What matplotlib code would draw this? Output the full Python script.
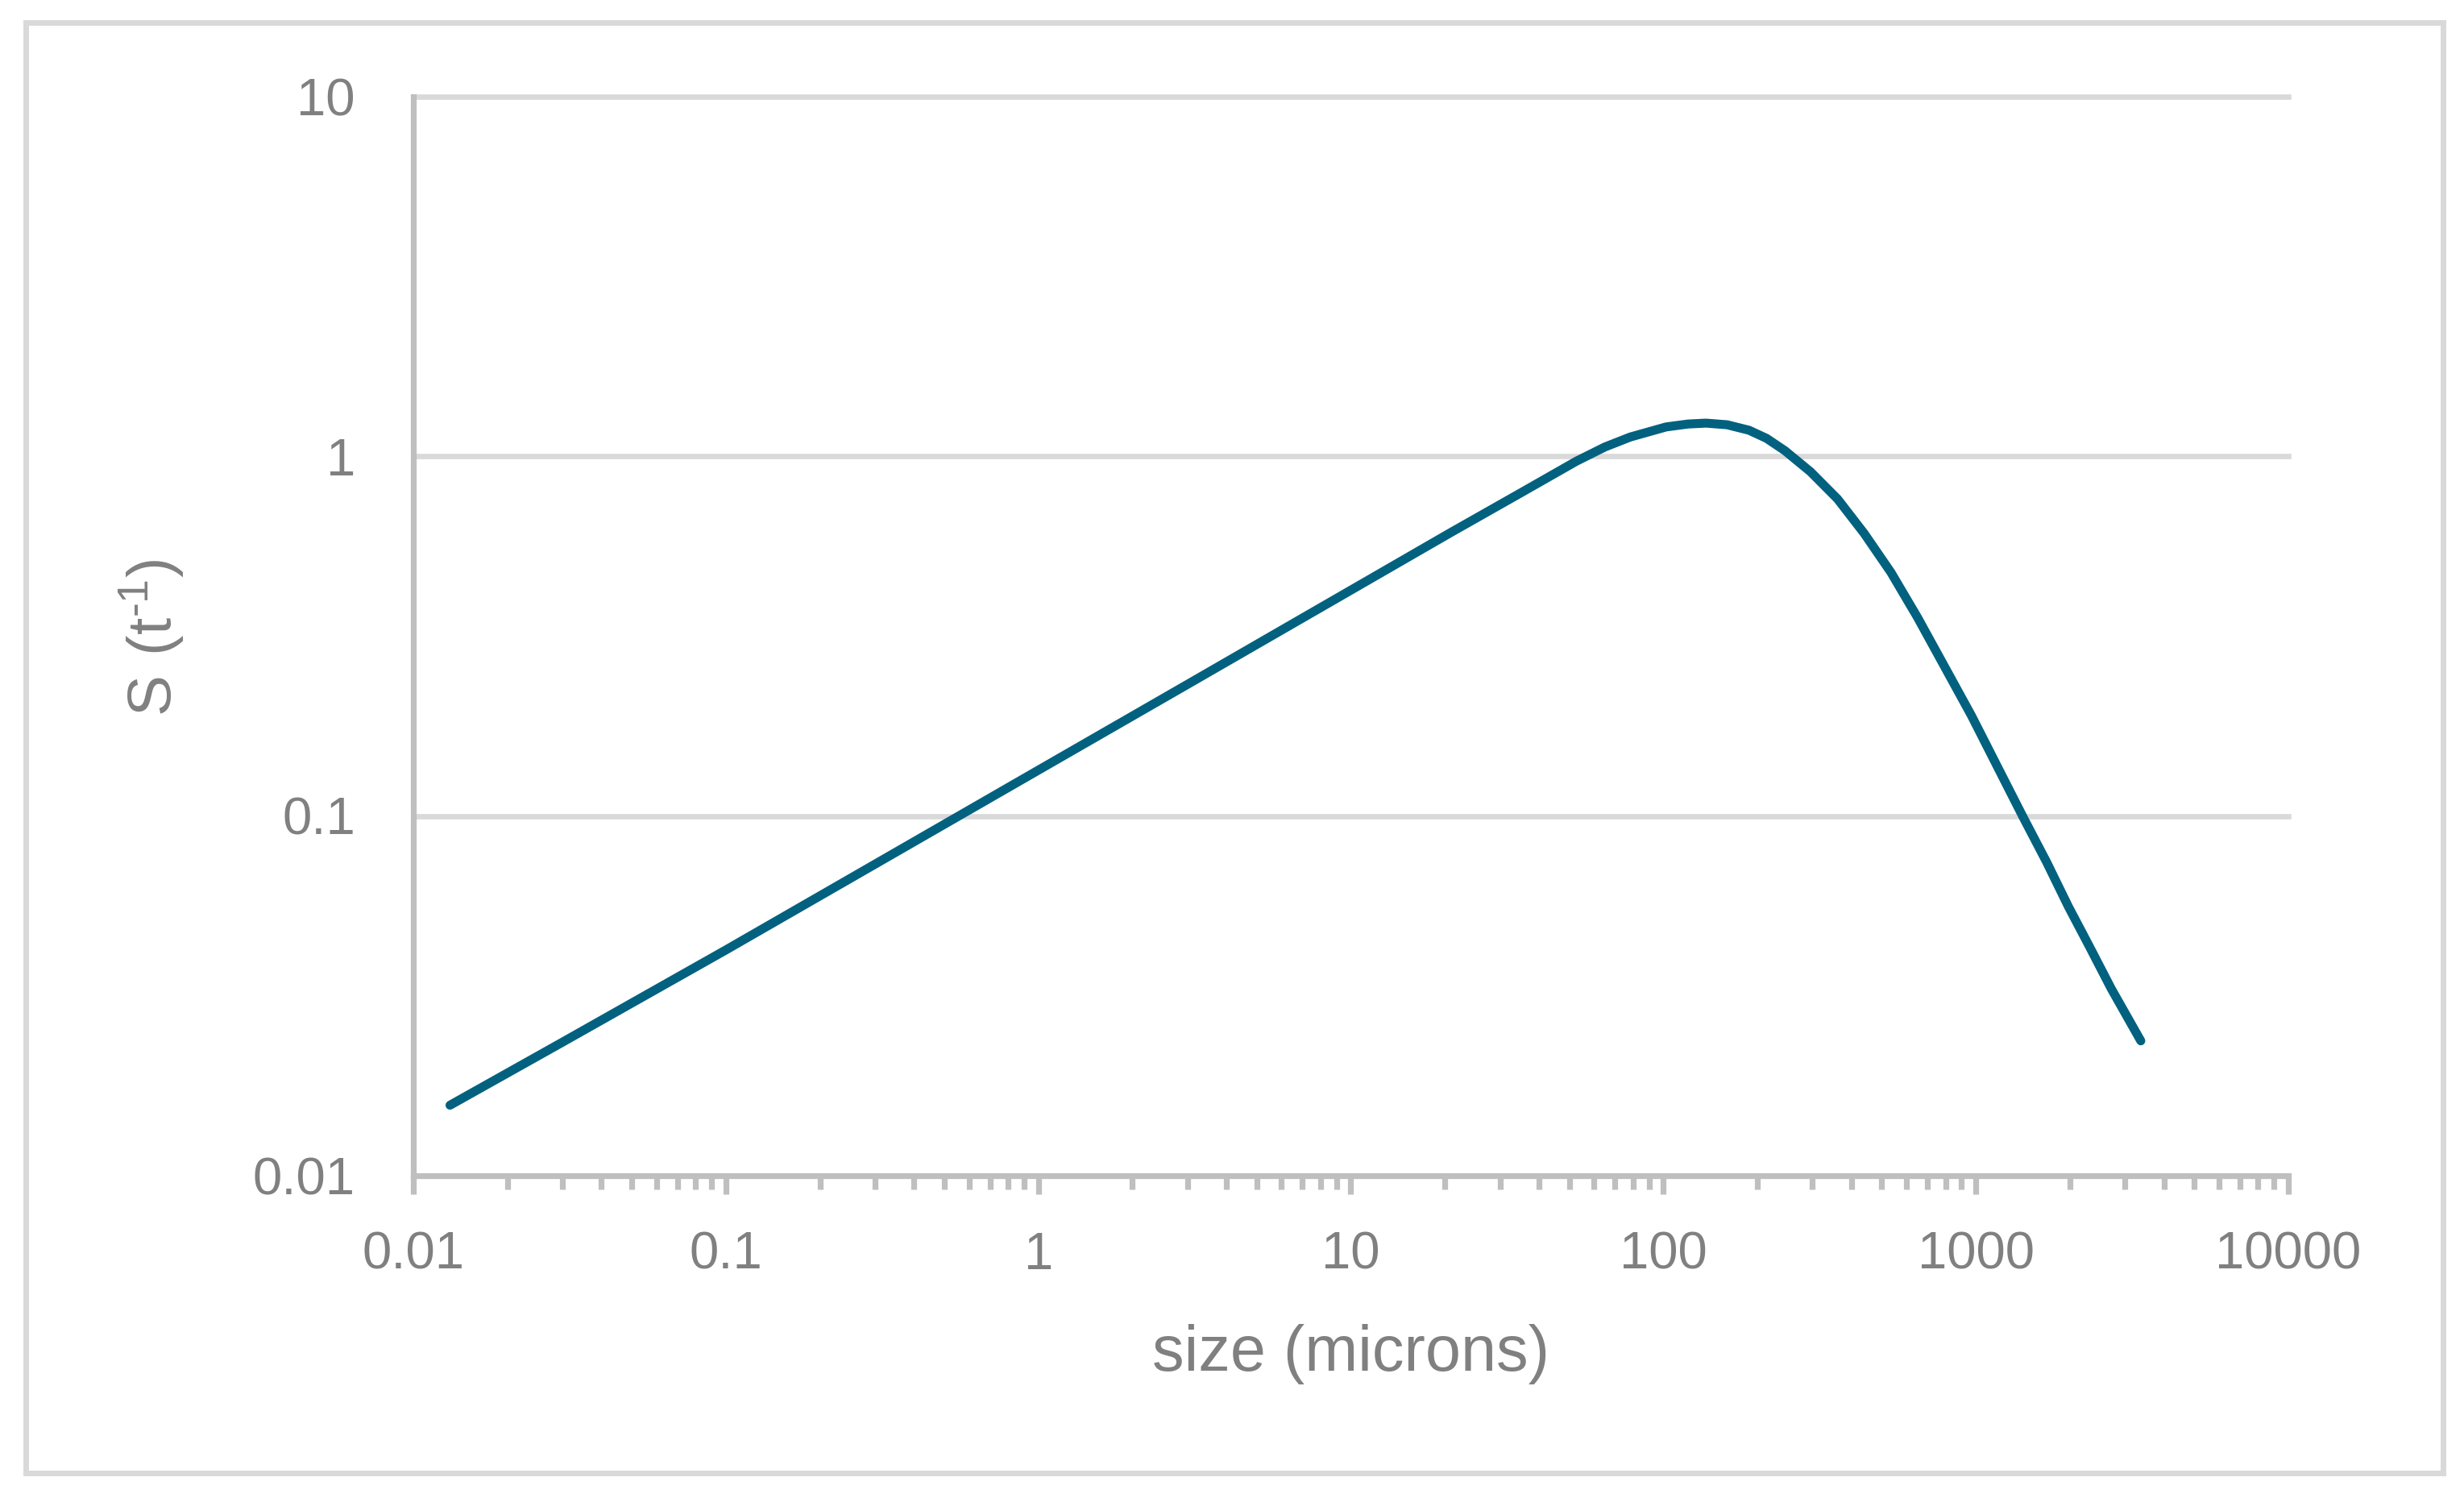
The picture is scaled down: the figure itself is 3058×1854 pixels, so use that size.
import matplotlib
matplotlib.use('Agg')
import matplotlib.pyplot as plt
from matplotlib.patches import Rectangle
from matplotlib.ticker import FixedLocator, NullFormatter

# Daten
size_um = [0.0131, 0.03, 0.1, 0.3, 1, 3, 10, 20.8, 35.4, 52.7, 65, 78.4, 102,
           120, 137, 160, 188, 214, 245, 296, 361, 439, 535, 652, 794, 968,
           1180, 1410, 1686, 1977, 2314, 2712, 3372]
s_rate = [0.0157, 0.0235, 0.0424, 0.0734, 0.134, 0.232, 0.424, 0.612, 0.795,
          0.968, 1.06, 1.13, 1.205, 1.228, 1.235, 1.222, 1.18, 1.12, 1.035,
          0.904, 0.76, 0.61, 0.475, 0.355, 0.260, 0.19, 0.1355, 0.100, 0.0743,
          0.0560, 0.0432, 0.0331, 0.0237]

x_ticks = [0.01, 0.1, 1, 10, 100, 1000, 10000]
x_tick_labels = ['0.01', '0.1', '1', '10', '100', '1000', '10000']
y_ticks = [0.01, 0.1, 1, 10]
y_tick_labels = ['0.01', '0.1', '1', '10']

x_label = 'size (microns)'
y_label = r'$\mathregular{S\ (t^{\text{-}1})}$'

W, H, DPI = 3058, 1854, 100
line_color = '#02617f'
grid_color = '#d9d9d9'
axis_color = '#bfbfbf'
text_color = '#808080'

plt.rcParams['font.family'] = ['Liberation Sans', 'DejaVu Sans']
plt.rcParams['mathtext.fontset'] = 'custom'
plt.rcParams['mathtext.rm'] = 'Liberation Sans'

fig = plt.figure(figsize=(W / DPI, H / DPI), dpi=DPI)
ax = fig.add_axes([513 / W, 1 - 1459 / H, (2840 - 513) / W, (1459 - 119.5) / H])

ax.plot(size_um, s_rate, color=line_color, lw=8.0, solid_capstyle='round',
        solid_joinstyle='round', zorder=3)

ax.set_xscale('log')
ax.set_yscale('log')
ax.set_xlim(0.01, 10000)
ax.set_ylim(0.01, 10)

ax.xaxis.set_major_locator(FixedLocator(x_ticks))
ax.set_xticklabels(x_tick_labels)
ax.xaxis.set_minor_locator(FixedLocator(
    [m * 10.0 ** e for e in range(-2, 4) for m in range(2, 10)]))
ax.xaxis.set_minor_formatter(NullFormatter())

ax.yaxis.set_major_locator(FixedLocator(y_ticks))
ax.set_yticklabels(y_tick_labels)
ax.yaxis.set_minor_locator(FixedLocator([]))

ax.grid(axis='y', which='major', color=grid_color, lw=4.8, zorder=1)
for gl in ax.get_ygridlines():
    gl.set_clip_on(False)

for side in ['top', 'right']:
    ax.spines[side].set_visible(False)
for side in ['left', 'bottom']:
    ax.spines[side].set_color(axis_color)
    ax.spines[side].set_linewidth(5.2)
    ax.spines[side].set_zorder(2)

ax.tick_params(axis='x', which='major', direction='out', length=16.6, width=5.2,
               color=axis_color, labelsize=47, labelcolor=text_color, pad=33)
ax.tick_params(axis='x', which='minor', direction='out', length=12.2, width=5.2,
               color=axis_color)
ax.tick_params(axis='y', which='major', length=0, labelsize=47,
               labelcolor=text_color, pad=52)

fig.text(1676 / W, 1 - 1680 / H, x_label, ha='center', va='center',
         fontsize=57, color=text_color)
fig.text(188 / W, 1 - 791 / H, y_label, ha='center', va='center',
         rotation=90, fontsize=55, color=text_color)

# Rahmen um das gesamte Diagramm
fig.patches.append(Rectangle((32 / W, 1 - 1828 / H), 3000 / W, 1800 / H,
                             transform=fig.transFigure, fill=False,
                             edgecolor=grid_color, lw=5))

fig.savefig('out.png', dpi=DPI)
